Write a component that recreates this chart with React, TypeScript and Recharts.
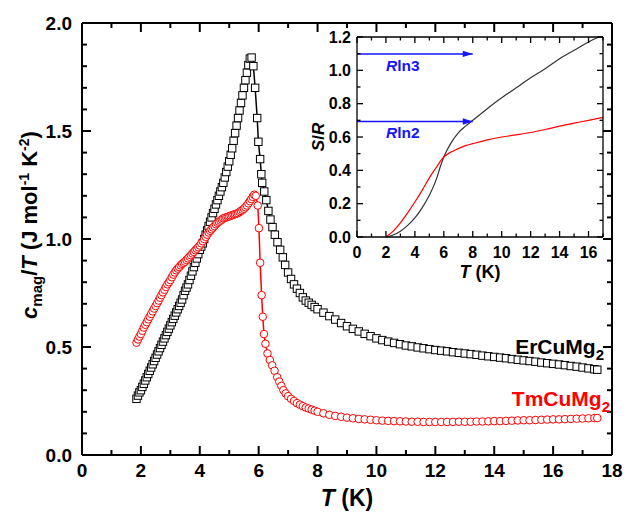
import { Line, LineChart, XAxis, YAxis } from "recharts";

const FONT = "'Liberation Sans', Arial, Helvetica, sans-serif";
const RED = "#ff0000";
const BLUE = "#1414ff";

// main panel: c_mag/T (J mol-1 K-2) vs T (K)
const erCuMg2: [number, number][] = [
  [1.85, 0.26], [1.9, 0.275], [1.95, 0.29], [2.0, 0.3], [2.05, 0.315], [2.1, 0.33], [2.15, 0.345],
  [2.2, 0.36], [2.25, 0.375], [2.3, 0.39], [2.35, 0.405], [2.4, 0.42], [2.45, 0.435], [2.5, 0.45],
  [2.55, 0.465], [2.6, 0.48], [2.65, 0.495], [2.7, 0.51], [2.75, 0.525], [2.8, 0.54], [2.85, 0.555],
  [2.9, 0.57], [2.95, 0.585], [3.0, 0.6], [3.05, 0.615], [3.1, 0.63], [3.15, 0.645], [3.2, 0.66],
  [3.25, 0.675], [3.3, 0.69], [3.35, 0.705], [3.4, 0.72], [3.45, 0.74], [3.5, 0.76], [3.55, 0.775],
  [3.6, 0.79], [3.65, 0.81], [3.7, 0.83], [3.75, 0.85], [3.8, 0.87], [3.85, 0.89], [3.9, 0.91],
  [3.95, 0.93], [4.0, 0.95], [4.05, 0.965], [4.1, 0.98], [4.15, 1.0], [4.2, 1.02], [4.25, 1.04],
  [4.3, 1.06], [4.35, 1.08], [4.4, 1.1], [4.45, 1.12], [4.5, 1.14], [4.55, 1.16], [4.6, 1.18],
  [4.65, 1.2], [4.7, 1.22], [4.75, 1.24], [4.8, 1.26], [4.85, 1.285], [4.9, 1.31], [4.95, 1.335],
  [5.0, 1.36], [5.05, 1.39], [5.1, 1.42], [5.15, 1.455], [5.2, 1.49], [5.25, 1.525], [5.3, 1.56],
  [5.35, 1.595], [5.4, 1.63], [5.45, 1.665], [5.5, 1.7], [5.55, 1.735], [5.6, 1.77], [5.65, 1.805],
  [5.7, 1.835], [5.76, 1.84],
  [5.82, 1.8], [5.88, 1.7], [5.95, 1.56], [5.99, 1.45], [6.05, 1.37], [6.09, 1.3], [6.12, 1.26],
  [6.19, 1.22], [6.26, 1.18], [6.33, 1.13], [6.4, 1.09], [6.47, 1.055], [6.55, 1.02], [6.64, 0.985],
  [6.73, 0.95], [6.82, 0.915], [6.9, 0.88], [7.0, 0.845], [7.1, 0.815], [7.2, 0.79], [7.3, 0.77],
  [7.4, 0.75], [7.5, 0.73], [7.6, 0.715], [7.7, 0.705], [7.8, 0.695], [7.9, 0.685], [8.0, 0.675],
  [8.2, 0.659], [8.4, 0.643], [8.6, 0.627], [8.8, 0.611], [9.0, 0.596], [9.2, 0.584], [9.4, 0.572],
  [9.6, 0.561], [9.8, 0.55], [10.0, 0.54], [10.2, 0.532], [10.4, 0.525], [10.6, 0.519], [10.8, 0.513],
  [11.0, 0.507], [11.2, 0.503], [11.4, 0.498], [11.6, 0.494], [11.8, 0.49], [12.0, 0.486],
  [12.2, 0.483], [12.4, 0.48], [12.6, 0.476], [12.8, 0.473], [13.0, 0.47], [13.2, 0.467],
  [13.4, 0.464], [13.6, 0.46], [13.8, 0.457], [14.0, 0.454], [14.2, 0.451], [14.4, 0.448],
  [14.6, 0.444], [14.8, 0.441], [15.0, 0.438], [15.2, 0.435], [15.4, 0.432], [15.6, 0.428],
  [15.8, 0.425], [16.0, 0.422], [16.2, 0.419], [16.4, 0.416], [16.6, 0.412], [16.8, 0.409],
  [17.0, 0.405], [17.2, 0.401], [17.4, 0.397], [17.5, 0.395],
];

const tmCuMg2: [number, number][] = [
  [1.85, 0.52], [1.9, 0.535], [1.95, 0.548], [2.0, 0.56], [2.05, 0.575], [2.1, 0.59], [2.15, 0.603],
  [2.2, 0.615], [2.25, 0.628], [2.3, 0.64], [2.35, 0.653], [2.4, 0.665], [2.45, 0.678], [2.5, 0.69],
  [2.55, 0.703], [2.6, 0.715], [2.65, 0.728], [2.7, 0.74], [2.75, 0.753], [2.8, 0.765], [2.85, 0.778],
  [2.9, 0.79], [2.95, 0.8], [3.0, 0.81], [3.05, 0.823], [3.1, 0.835], [3.15, 0.845], [3.2, 0.855],
  [3.25, 0.863], [3.3, 0.87], [3.35, 0.878], [3.4, 0.885], [3.45, 0.89], [3.5, 0.895], [3.55, 0.903],
  [3.6, 0.91], [3.65, 0.918], [3.7, 0.925], [3.75, 0.933], [3.8, 0.94], [3.85, 0.948], [3.9, 0.955],
  [3.95, 0.962], [4.0, 0.97], [4.05, 0.98], [4.1, 0.99], [4.15, 1.0], [4.2, 1.01], [4.25, 1.02],
  [4.3, 1.03], [4.35, 1.038], [4.4, 1.045], [4.45, 1.053], [4.5, 1.06], [4.55, 1.068], [4.6, 1.075],
  [4.65, 1.08], [4.7, 1.085], [4.75, 1.09], [4.8, 1.095], [4.85, 1.098], [4.9, 1.1], [4.95, 1.103],
  [5.0, 1.105], [5.05, 1.108], [5.1, 1.11], [5.15, 1.113], [5.2, 1.115], [5.25, 1.118], [5.3, 1.12],
  [5.35, 1.125], [5.4, 1.13], [5.45, 1.135], [5.5, 1.14], [5.55, 1.147], [5.6, 1.155], [5.65, 1.165],
  [5.7, 1.175], [5.75, 1.185], [5.8, 1.195], [5.85, 1.205], [5.9, 1.2],
  [5.97, 1.155], [6.01, 1.05], [6.05, 0.89], [6.1, 0.74], [6.14, 0.64], [6.18, 0.56], [6.23, 0.515],
  [6.3, 0.47], [6.38, 0.44], [6.46, 0.415], [6.54, 0.39], [6.63, 0.36], [6.7, 0.34], [6.77, 0.32],
  [6.84, 0.3], [6.92, 0.285], [7.0, 0.272], [7.1, 0.26], [7.2, 0.25], [7.3, 0.24], [7.4, 0.233],
  [7.5, 0.226], [7.6, 0.22], [7.7, 0.215], [7.8, 0.21], [7.9, 0.205], [8.0, 0.2],
  [8.2, 0.193], [8.4, 0.186], [8.6, 0.181], [8.8, 0.177], [9.0, 0.173], [9.2, 0.17], [9.4, 0.167],
  [9.6, 0.165], [9.8, 0.163], [10.0, 0.161], [10.2, 0.159], [10.4, 0.158], [10.6, 0.157], [10.8, 0.156],
  [11.0, 0.155], [11.2, 0.154], [11.4, 0.154], [11.6, 0.153], [11.8, 0.153], [12.0, 0.153],
  [12.2, 0.153], [12.4, 0.153], [12.6, 0.153], [12.8, 0.154], [13.0, 0.154], [13.2, 0.154],
  [13.4, 0.155], [13.6, 0.155], [13.8, 0.156], [14.0, 0.157], [14.2, 0.157], [14.4, 0.158],
  [14.6, 0.159], [14.8, 0.16], [15.0, 0.161], [15.2, 0.161], [15.4, 0.162], [15.6, 0.163],
  [15.8, 0.164], [16.0, 0.165], [16.2, 0.165], [16.4, 0.166], [16.6, 0.167], [16.8, 0.168],
  [17.0, 0.169], [17.2, 0.17], [17.4, 0.171], [17.5, 0.171],
];

// inset: S/R vs T (K)
const entropyEr: [number, number][] = [
  [2.0, 0], [2.5, 0.012], [3.0, 0.035], [3.5, 0.07], [4.0, 0.115], [4.5, 0.175], [5.0, 0.25],
  [5.5, 0.35], [5.75, 0.42], [6.0, 0.48], [6.5, 0.565], [7.0, 0.625], [7.5, 0.665], [8.0, 0.7],
  [9.0, 0.77], [10.0, 0.835], [11.0, 0.895], [12.0, 0.955], [13.0, 1.01], [14.0, 1.07],
  [15.0, 1.12], [16.0, 1.17], [16.7, 1.2],
];
const entropyTm: [number, number][] = [
  [2.0, 0], [2.5, 0.035], [3.0, 0.085], [3.5, 0.145], [4.0, 0.21], [4.5, 0.28], [5.0, 0.355],
  [5.5, 0.42], [5.8, 0.46], [6.0, 0.48], [6.5, 0.51], [7.0, 0.53], [7.5, 0.548], [8.0, 0.56],
  [9.0, 0.583], [10.0, 0.6], [11.0, 0.613], [12.0, 0.627], [13.0, 0.645], [14.0, 0.665],
  [15.0, 0.683], [16.0, 0.7], [17.0, 0.718],
];
const rLn3: [number, number][] = [[0, 1.0986], [8, 1.0986]];
const rLn2: [number, number][] = [[0, 0.6931], [8, 0.6931]];

// tick positions: all ticks, and the labelled major ones
const mainXTicks = [0, 1, 2, 3, 4, 5, 6, 7, 8, 9, 10, 11, 12, 13, 14, 15, 16, 17, 18];
const mainXMajor = [0, 2, 4, 6, 8, 10, 12, 14, 16, 18];
const mainYTicks = [0, 0.1, 0.2, 0.3, 0.4, 0.5, 0.6, 0.7, 0.8, 0.9, 1.0, 1.1, 1.2, 1.3, 1.4, 1.5, 1.6, 1.7, 1.8, 1.9, 2.0];
const mainYMajor = [0, 0.5, 1.0, 1.5, 2.0];
const insetXTicks = [0, 1, 2, 3, 4, 5, 6, 7, 8, 9, 10, 11, 12, 13, 14, 15, 16, 17];
const insetXMajor = [0, 2, 4, 6, 8, 10, 12, 14, 16];
const insetYTicks = [0, 0.1, 0.2, 0.3, 0.4, 0.5, 0.6, 0.7, 0.8, 0.9, 1.0, 1.1, 1.2];
const insetYMajor = [0, 0.2, 0.4, 0.6, 0.8, 1.0, 1.2];

const toPoints = (rows: [number, number][]) => rows.map(([t, v]) => ({ t, v }));

interface AxisStyle {
  major: number;
  minor: number;
  size: number;
  offset: number;
  digits: number;
  width: number;
}

const mainX: AxisStyle = { major: 9, minor: 5, size: 19, offset: 22, digits: 0, width: 2 };
const mainY: AxisStyle = { major: 9, minor: 5, size: 19, offset: 10, digits: 1, width: 2 };
const insetX: AxisStyle = { major: 6, minor: 3.5, size: 16, offset: 21, digits: 0, width: 1.3 };
const insetY: AxisStyle = { major: 6, minor: 3.5, size: 16, offset: 6, digits: 1, width: 1.3 };

// plot boxes that the margins below produce (page pixels)
const MAIN_BOX = { left: 82, right: 612, top: 23, bottom: 455 };
const INSET_BOX = { left: 357, right: 603, top: 37, bottom: 237 };

function TickLabel(props: any) {
  const st: AxisStyle = props.st;
  const x = Number(props.x);
  const y = Number(props.y);
  const v = Number(props.payload.value);
  if (props.side === "bottom") {
    return (
      <text x={x} y={y + st.offset} textAnchor="middle" fontSize={st.size} fontWeight="bold" fontFamily={FONT} fill="#000">
        {v.toFixed(st.digits)}
      </text>
    );
  }
  return (
    <text x={x - st.offset} y={y + st.size * 0.36} textAnchor="end" fontSize={st.size} fontWeight="bold" fontFamily={FONT} fill="#000">
      {v.toFixed(st.digits)}
    </text>
  );
}

function frame(xDomain: [number, number], yDomain: [number, number], xMajor: number[], yMajor: number[], sx: AxisStyle, sy: AxisStyle, xh: number, yw: number) {
  const line = { stroke: "#000", strokeWidth: sx.width };
  const base = { type: "number" as const, interval: 0 as const, tickSize: 0, tickMargin: 0, tickLine: false, axisLine: line };
  return [
    <XAxis key="xb" xAxisId="b" dataKey="t" domain={xDomain} ticks={xMajor} height={xh} {...base}
      tick={(q: any) => <TickLabel {...q} side="bottom" st={sx} />} />,
    <XAxis key="xt" xAxisId="t" orientation="top" dataKey="t" domain={xDomain} ticks={xMajor} height={1} {...base} tick={false} />,
    <YAxis key="yl" yAxisId="l" dataKey="v" domain={yDomain} ticks={yMajor} width={yw} {...base}
      tick={(q: any) => <TickLabel {...q} side="left" st={sy} />} />,
    <YAxis key="yr" yAxisId="r" orientation="right" dataKey="v" domain={yDomain} ticks={yMajor} width={1} {...base} tick={false} />,
  ];
}

// inward tick marks on all four sides of a plot box
function InwardTicks(props: {
  box: typeof MAIN_BOX;
  xDomain: [number, number];
  yDomain: [number, number];
  xTicks: number[];
  xMajor: number[];
  yTicks: number[];
  yMajor: number[];
  sx: AxisStyle;
  sy: AxisStyle;
}) {
  const { box, xDomain, yDomain, xTicks, xMajor, yTicks, yMajor, sx, sy } = props;
  const px = (t: number) => box.left + ((t - xDomain[0]) / (xDomain[1] - xDomain[0])) * (box.right - box.left);
  const py = (v: number) => box.bottom - ((v - yDomain[0]) / (yDomain[1] - yDomain[0])) * (box.bottom - box.top);
  const marks: JSX.Element[] = [];
  xTicks.forEach((t, i) => {
    const len = xMajor.includes(t) ? sx.major : sx.minor;
    const x = px(t);
    marks.push(<line key={"b" + i} x1={x} x2={x} y1={box.bottom} y2={box.bottom - len} stroke="#000" strokeWidth={sx.width} />);
    marks.push(<line key={"t" + i} x1={x} x2={x} y1={box.top} y2={box.top + len} stroke="#000" strokeWidth={sx.width} />);
  });
  yTicks.forEach((v, i) => {
    const len = yMajor.includes(v) ? sy.major : sy.minor;
    const y = py(v);
    marks.push(<line key={"l" + i} x1={box.left} x2={box.left + len} y1={y} y2={y} stroke="#000" strokeWidth={sy.width} />);
    marks.push(<line key={"r" + i} x1={box.right} x2={box.right - len} y1={y} y2={y} stroke="#000" strokeWidth={sy.width} />);
  });
  return <g>{marks}</g>;
}

function SquareDot(props: any) {
  const { cx, cy, index } = props;
  if (cx == null || cy == null) return <g key={index} />;
  return <rect key={index} x={cx - 3.7} y={cy - 3.7} width={7.4} height={7.4} fill="#fff" stroke="#000" strokeWidth={1} />;
}

function CircleDot(props: any) {
  const { cx, cy, index } = props;
  if (cx == null || cy == null) return <g key={index} />;
  return <circle key={index} cx={cx} cy={cy} r={3.8} fill="#fff" stroke={RED} strokeWidth={1} />;
}

function ArrowHead(props: any) {
  const { cx, cy, index } = props;
  if (index !== 1 || cx == null) return <g key={index} />;
  return <polygon key={index} points={`${cx},${cy} ${cx - 10},${cy - 3.2} ${cx - 10},${cy + 3.2}`} fill={BLUE} />;
}

export default function App() {
  return (
    <div style={{ position: "absolute", left: 0, top: 0, width: 634, height: 513, background: "#fff", fontFamily: FONT }}>
      <div style={{ position: "absolute", left: 0, top: 0 }}>
        <LineChart width={634} height={513} margin={{ top: 22, right: 21, bottom: 28, left: 22 }}>
          {frame([0, 18], [0, 2], mainXMajor, mainYMajor, mainX, mainY, 30, 60)}
          <Line data={toPoints(erCuMg2)} dataKey="v" xAxisId="b" yAxisId="l" type="linear" stroke="#000" strokeWidth={1.5}
            dot={SquareDot} activeDot={false} isAnimationActive={false} />
          <Line data={toPoints(tmCuMg2)} dataKey="v" xAxisId="b" yAxisId="l" type="linear" stroke={RED} strokeWidth={1.5}
            dot={CircleDot} activeDot={false} isAnimationActive={false} />
        </LineChart>
      </div>

      <div style={{ position: "absolute", left: 300, top: 30 }}>
        <LineChart width={310} height={250} margin={{ top: 6, right: 6, bottom: 23, left: 17 }}>
          {frame([0, 17], [0, 1.2], insetXMajor, insetYMajor, insetX, insetY, 20, 40)}
          <Line data={toPoints(rLn3)} dataKey="v" xAxisId="b" yAxisId="l" type="linear" stroke={BLUE} strokeWidth={1.5}
            dot={ArrowHead} activeDot={false} isAnimationActive={false} />
          <Line data={toPoints(rLn2)} dataKey="v" xAxisId="b" yAxisId="l" type="linear" stroke={BLUE} strokeWidth={1.5}
            dot={ArrowHead} activeDot={false} isAnimationActive={false} />
          <Line data={toPoints(entropyEr)} dataKey="v" xAxisId="b" yAxisId="l" type="monotone" stroke="#333" strokeWidth={1.2}
            dot={false} activeDot={false} isAnimationActive={false} />
          <Line data={toPoints(entropyTm)} dataKey="v" xAxisId="b" yAxisId="l" type="monotone" stroke={RED} strokeWidth={1.2}
            dot={false} activeDot={false} isAnimationActive={false} />
        </LineChart>
      </div>

      <svg width={634} height={513} style={{ position: "absolute", left: 0, top: 0, pointerEvents: "none" }}
        fontFamily={FONT} fontWeight="bold">
        <InwardTicks box={MAIN_BOX} xDomain={[0, 18]} yDomain={[0, 2]} xTicks={mainXTicks} xMajor={mainXMajor}
          yTicks={mainYTicks} yMajor={mainYMajor} sx={mainX} sy={mainY} />
        <InwardTicks box={INSET_BOX} xDomain={[0, 17]} yDomain={[0, 1.2]} xTicks={insetXTicks} xMajor={insetXMajor}
          yTicks={insetYTicks} yMajor={insetYMajor} sx={insetX} sy={insetY} />

        <text transform="rotate(-90 37 225)" x={37} y={225} textAnchor="middle" fontSize={22} fill="#000">
          <tspan fontStyle="italic">c</tspan>
          <tspan fontSize={15} dy={5}>mag</tspan>
          <tspan dy={-5}>/</tspan>
          <tspan fontStyle="italic">T</tspan>
          <tspan> (J mol</tspan>
          <tspan fontSize={14} dy={-8}>-1</tspan>
          <tspan dy={8}> K</tspan>
          <tspan fontSize={14} dy={-8}>-2</tspan>
          <tspan dy={8}>)</tspan>
        </text>
        <text x={347} y={506} textAnchor="middle" fontSize={23} fill="#000">
          <tspan fontStyle="italic">T</tspan> (K)
        </text>
        <text x={604} y={354} textAnchor="end" fontSize={21} fill="#000">
          ErCuMg<tspan fontSize={15} dy={6}>2</tspan>
        </text>
        <text x={610} y={406} textAnchor="end" fontSize={21} fill={RED}>
          TmCuMg<tspan fontSize={15} dy={6}>2</tspan>
        </text>

        <text transform="rotate(-90 324 137)" x={324} y={137} textAnchor="middle" fontSize={17} fill="#000">
          <tspan fontStyle="italic">S</tspan>/<tspan fontStyle="italic">R</tspan>
        </text>
        <text x={480} y={278} textAnchor="middle" fontSize={18} fill="#000">
          <tspan fontStyle="italic">T</tspan> (K)
        </text>
        <text x={386} y={71} fontSize={15.5} fill={BLUE}>
          <tspan fontStyle="italic">R</tspan>ln3
        </text>
        <text x={386} y={138} fontSize={15.5} fill={BLUE}>
          <tspan fontStyle="italic">R</tspan>ln2
        </text>
      </svg>
    </div>
  );
}
